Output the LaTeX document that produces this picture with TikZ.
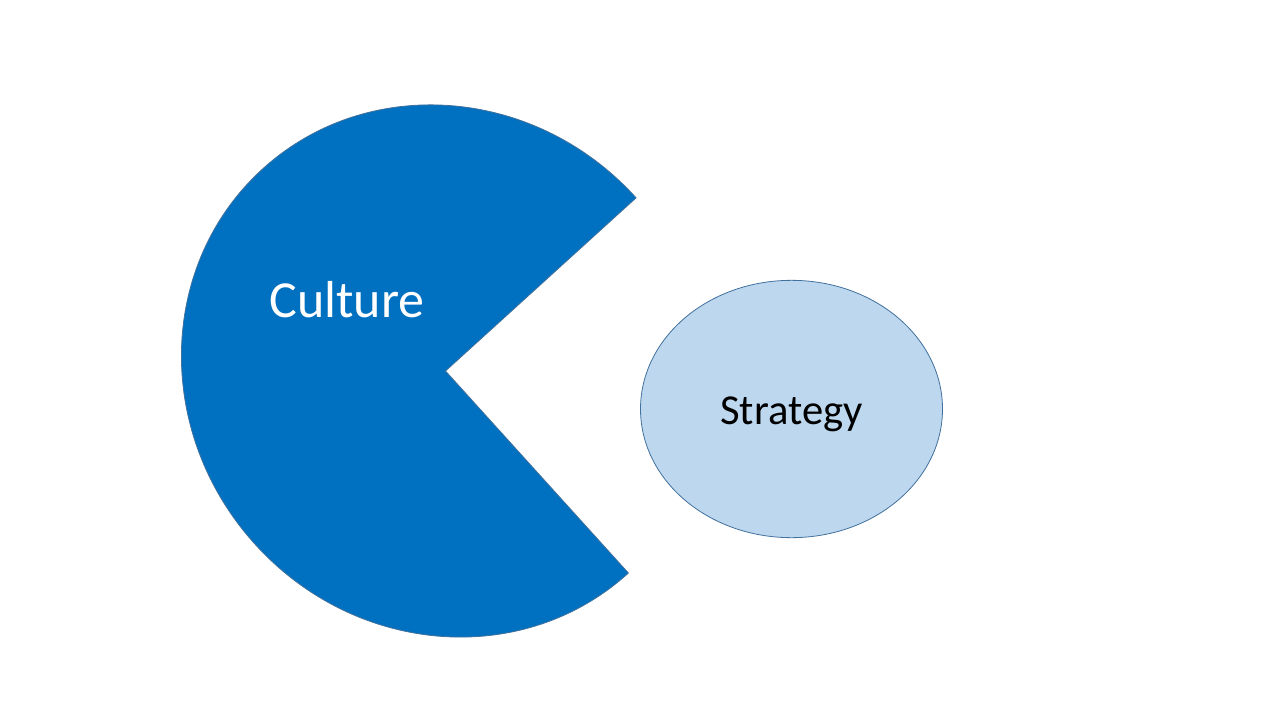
\documentclass[tikz,border=0pt]{standalone}
\usepackage{fontspec}
\setmainfont{Carlito}
\usetikzlibrary{shapes.geometric}
\definecolor{pieblue}{HTML}{0070C0}
\definecolor{pieedge}{HTML}{41719C}
\definecolor{lightblue}{HTML}{BDD7EE}
\tikzset{
  pieshape/.style={fill=pieblue,draw=pieedge,line width=0.6pt},
  oval/.style={ellipse,fill=lightblue,draw=pieedge,line width=0.6pt,inner sep=0pt},
  caption/.style={inner sep=0pt,anchor=base}
}
\begin{document}
\begin{tikzpicture}[x=0.75pt,y=-0.75pt]
\useasboundingbox (0,0) rectangle (1280,720);
\fill[white] (0,0) rectangle (1280,720);
\begin{scope}[shift={(445.5,371)},rotate=-48.8]
\draw[pieshape,x=0.75pt,y=0.75pt] (0,0) -- (91:272.5 and 257.5) arc[start angle=91,end angle=361,x radius=204.4pt,y radius=193.1pt] -- cycle;
\end{scope}
\node[oval,minimum width=226.5pt,minimum height=193pt] (strategy) at (791.5,409) {};
\node[caption,text=white,font=\fontsize{39}{39}\selectfont] (culture) at (347,317) {Culture};
\node[caption,text=black,font=\fontsize{32}{32}\selectfont] (strategytext) at (791.5,424) {Strategy};
\end{tikzpicture}
\end{document}
